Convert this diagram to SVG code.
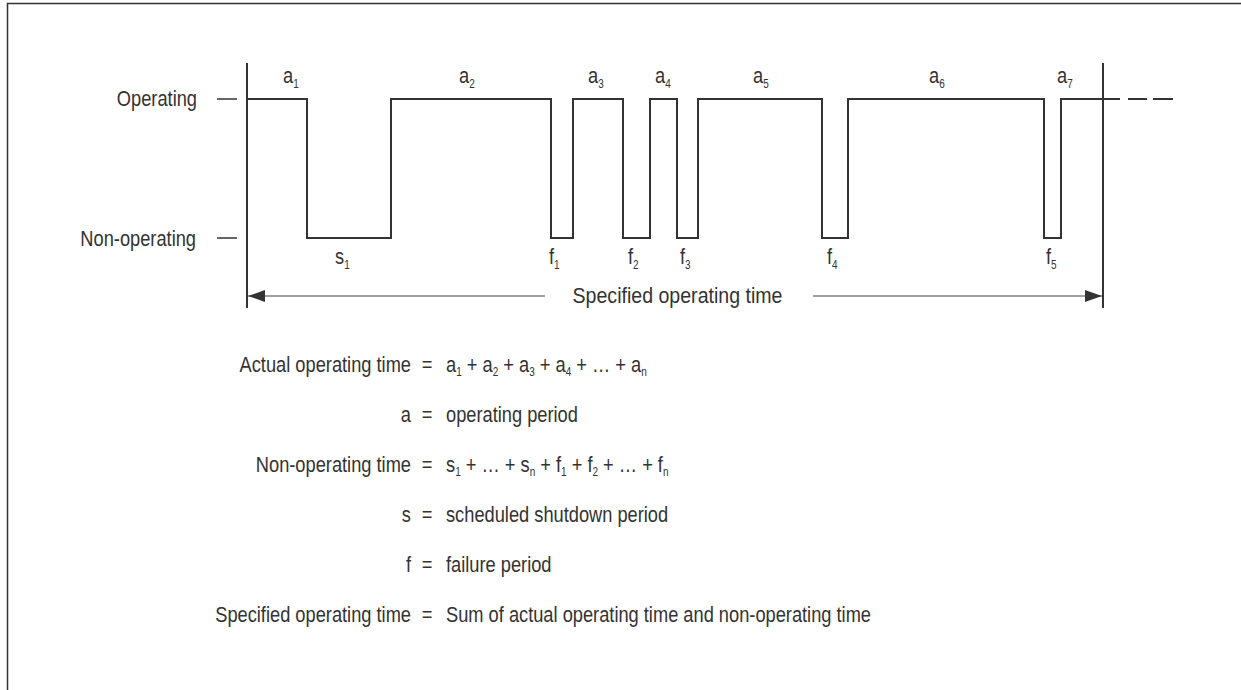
<svg xmlns="http://www.w3.org/2000/svg" width="1241" height="690" viewBox="0 0 1241 690">
<style>
text{font-family:"Liberation Sans",Arial,sans-serif;font-size:22px;fill:#333}
.sub{font-size:12px}
.wave{fill:none;stroke:#333;stroke-width:2}
.axis{stroke:#333;stroke-width:2}
.thin{stroke:#444;stroke-width:1.2}
.tick{stroke:#333;stroke-width:1.5}
.frame{stroke:#333;stroke-width:1.5;fill:none}
</style>
<defs>
<marker id="ah" markerWidth="18" markerHeight="14" refX="17" refY="6" orient="auto-start-reverse" markerUnits="userSpaceOnUse">
<path d="M0,0 L17,6 L0,12 Z" fill="#333"/>
</marker>
</defs>
<rect width="1241" height="690" fill="#fff"/>
<path class="frame" d="M7.5,690 V3.5 H1241"/>

<g id="axes">
<line class="axis" x1="247" y1="63" x2="247" y2="308"/>
<line class="axis" x1="1103" y1="63" x2="1103" y2="308"/>
<line class="tick" x1="217" y1="99" x2="237" y2="99"/>
<line class="tick" x1="217" y1="238" x2="237" y2="238"/>
</g>

<g id="level-labels">
<text transform="translate(197,106) scale(0.83,1)" text-anchor="end">Operating</text>
<text transform="translate(196,246) scale(0.83,1)" text-anchor="end">Non-operating</text>
</g>

<g id="waveform">
<path class="wave" d="M247,99 H307 V238 H391 V99 H551 V238 H573 V99 H623 V238 H650 V99 H677 V238 H698 V99 H822 V238 H848 V99 H1044 V238 H1061 V99 H1120"/>
<path class="wave" d="M1128,99 H1147 M1153,99 H1173"/>
</g>

<g id="period-labels">
<text transform="translate(283,83) scale(0.83,1)">a<tspan class="sub" dy="5">1</tspan></text>
<text transform="translate(459,83) scale(0.83,1)">a<tspan class="sub" dy="5">2</tspan></text>
<text transform="translate(588,83) scale(0.83,1)">a<tspan class="sub" dy="5">3</tspan></text>
<text transform="translate(655,83) scale(0.83,1)">a<tspan class="sub" dy="5">4</tspan></text>
<text transform="translate(753,83) scale(0.83,1)">a<tspan class="sub" dy="5">5</tspan></text>
<text transform="translate(929,83) scale(0.83,1)">a<tspan class="sub" dy="5">6</tspan></text>
<text transform="translate(1057,83) scale(0.83,1)">a<tspan class="sub" dy="5">7</tspan></text>
<text transform="translate(335,264) scale(0.83,1)">s<tspan class="sub" dy="5">1</tspan></text>
<text transform="translate(549,264) scale(0.83,1)">f<tspan class="sub" dy="5">1</tspan></text>
<text transform="translate(628,264) scale(0.83,1)">f<tspan class="sub" dy="5">2</tspan></text>
<text transform="translate(680,264) scale(0.83,1)">f<tspan class="sub" dy="5">3</tspan></text>
<text transform="translate(827,264) scale(0.83,1)">f<tspan class="sub" dy="5">4</tspan></text>
<text transform="translate(1046,264) scale(0.83,1)">f<tspan class="sub" dy="5">5</tspan></text>
</g>

<g id="connectors">
<line class="thin" x1="545" y1="296" x2="248" y2="296" marker-end="url(#ah)"/>
<line class="thin" x1="813" y1="296" x2="1102" y2="296" marker-end="url(#ah)"/>
</g>
<g id="span-label">
<text transform="translate(677.5,303) scale(0.89,1)" text-anchor="middle">Specified operating time</text>
</g>

<g id="definitions">
<text transform="translate(411,372) scale(0.83,1)" text-anchor="end">Actual operating time</text>
<text transform="translate(427,372) scale(0.83,1)" text-anchor="middle">=</text>
<text transform="translate(446,372) scale(0.83,1)">a<tspan class="sub" dy="4">1</tspan><tspan dy="-4"> + a</tspan><tspan class="sub" dy="4">2</tspan><tspan dy="-4"> + a</tspan><tspan class="sub" dy="4">3</tspan><tspan dy="-4"> + a</tspan><tspan class="sub" dy="4">4</tspan><tspan dy="-4"> + … + a</tspan><tspan class="sub" dy="4">n</tspan></text>

<text transform="translate(411,422) scale(0.83,1)" text-anchor="end">a</text>
<text transform="translate(427,422) scale(0.83,1)" text-anchor="middle">=</text>
<text transform="translate(446,422) scale(0.83,1)">operating period</text>

<text transform="translate(411,472) scale(0.83,1)" text-anchor="end">Non-operating time</text>
<text transform="translate(427,472) scale(0.83,1)" text-anchor="middle">=</text>
<text transform="translate(446,472) scale(0.83,1)">s<tspan class="sub" dy="4">1</tspan><tspan dy="-4"> + … + s</tspan><tspan class="sub" dy="4">n</tspan><tspan dy="-4"> + f</tspan><tspan class="sub" dy="4">1</tspan><tspan dy="-4"> + f</tspan><tspan class="sub" dy="4">2</tspan><tspan dy="-4"> + … + f</tspan><tspan class="sub" dy="4">n</tspan></text>

<text transform="translate(411,522) scale(0.83,1)" text-anchor="end">s</text>
<text transform="translate(427,522) scale(0.83,1)" text-anchor="middle">=</text>
<text transform="translate(446,522) scale(0.83,1)">scheduled shutdown period</text>

<text transform="translate(411,572) scale(0.83,1)" text-anchor="end">f</text>
<text transform="translate(427,572) scale(0.83,1)" text-anchor="middle">=</text>
<text transform="translate(446,572) scale(0.83,1)">failure period</text>

<text transform="translate(411,622) scale(0.83,1)" text-anchor="end">Specified operating time</text>
<text transform="translate(427,622) scale(0.83,1)" text-anchor="middle">=</text>
<text transform="translate(446,622) scale(0.83,1)">Sum of actual operating time and non-operating time</text>
</g>
</svg>
